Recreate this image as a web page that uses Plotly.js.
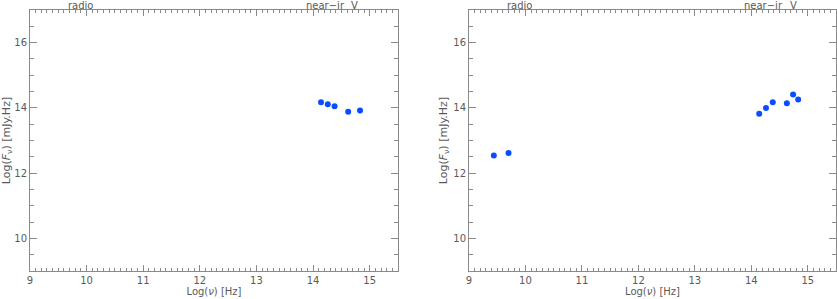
<!DOCTYPE html>
<html>
<head>
<meta charset="utf-8">
<script src="https://cdn.plot.ly/plotly-3.0.1.min.js"></script>
<style>
  html, body { margin: 0; padding: 0; background: #fff; }
  #sed { width: 837px; height: 299px; }
</style>
</head>
<body>
<div id="sed"></div>
<script>
// SED points, log frequency [Hz] vs log(F_nu) [mJy.Hz]
const leftNu = [14.14, 14.26, 14.38, 14.62, 14.83];
const leftF = [14.17, 14.11, 14.05, 13.88, 13.92];

const rightNu = [9.44, 9.70, 14.14, 14.26, 14.38, 14.63, 14.74, 14.83];
const rightF = [12.54, 12.62, 13.82, 14.00, 14.17, 14.14, 14.41, 14.26];

// band markers along the top edge
const bandNames = ['radio', 'near\u2212ir', 'V'];
const bandNu = [9.9, 14.22, 14.74];

const dotColor = '#0a4cff';
const axisGrey = '#8a8a8a';
const textGrey = '#5a5a5a';
const fontFam = 'DejaVu Sans, Arial, sans-serif';

function pointTrace(x, y, xa, ya) {
    return {
        x: x, y: y, xaxis: xa, yaxis: ya,
        mode: 'markers', type: 'scatter',
        marker: { color: dotColor, size: 6 },
        hoverinfo: 'x+y', showlegend: false
    };
}

function xAxis(domain, anchor) {
    return {
        domain: domain, anchor: anchor,
        range: [9, 15.5], dtick: 1, tick0: 0,
        showgrid: false, zeroline: false,
        showline: true, linecolor: axisGrey, linewidth: 1, mirror: 'allticks',
        ticks: 'inside', ticklen: 6, tickcolor: axisGrey,
        minor: { dtick: 0.1, ticks: 'inside', ticklen: 3, tickcolor: axisGrey },
        tickfont: { size: 10, color: textGrey, family: fontFam },
        title: { text: 'Log(<i>\u03bd</i>) [Hz]', font: { size: 10, color: textGrey, family: fontFam }, standoff: 2 }
    };
}

function yAxis(anchor) {
    return {
        domain: [0, 1], anchor: anchor,
        range: [9, 17], dtick: 2, tick0: 0,
        showgrid: false, zeroline: false,
        showline: true, linecolor: axisGrey, linewidth: 1, mirror: 'allticks',
        ticks: 'inside', ticklen: 7, tickcolor: axisGrey,
        minor: { dtick: 0.5, ticks: 'inside', ticklen: 4, tickcolor: axisGrey },
        tickfont: { size: 10, color: textGrey, family: fontFam },
        title: { text: 'Log(<i>F</i><sub>\u03bd</sub>) [mJy.Hz]', font: { size: 11, color: textGrey, family: fontFam }, standoff: 3 }
    };
}

const annotations = [];
['x', 'x2'].forEach(function (xr) {
    bandNames.forEach(function (name, i) {
        annotations.push({
            text: name, x: bandNu[i], xref: xr, y: 1 + 5 / 261, yref: 'paper',
            yanchor: 'middle', showarrow: false, borderpad: 0,
            font: { size: 10, color: textGrey, family: fontFam }
        });
    });
});

const layout = {
    width: 837, height: 299,
    margin: { l: 0, r: 0, t: 10, b: 28 },
    paper_bgcolor: '#fff', plot_bgcolor: '#fff',
    xaxis: xAxis([30 / 837, 398 / 837], 'y'),
    yaxis: yAxis('x'),
    xaxis2: xAxis([469 / 837, 836 / 837], 'y2'),
    yaxis2: yAxis('x2'),
    annotations: annotations
};

Plotly.newPlot('sed', [
    pointTrace(leftNu, leftF, 'x', 'y'),
    pointTrace(rightNu, rightF, 'x2', 'y2')
], layout, { displayModeBar: false, staticPlot: true });
</script>
</body>
</html>
